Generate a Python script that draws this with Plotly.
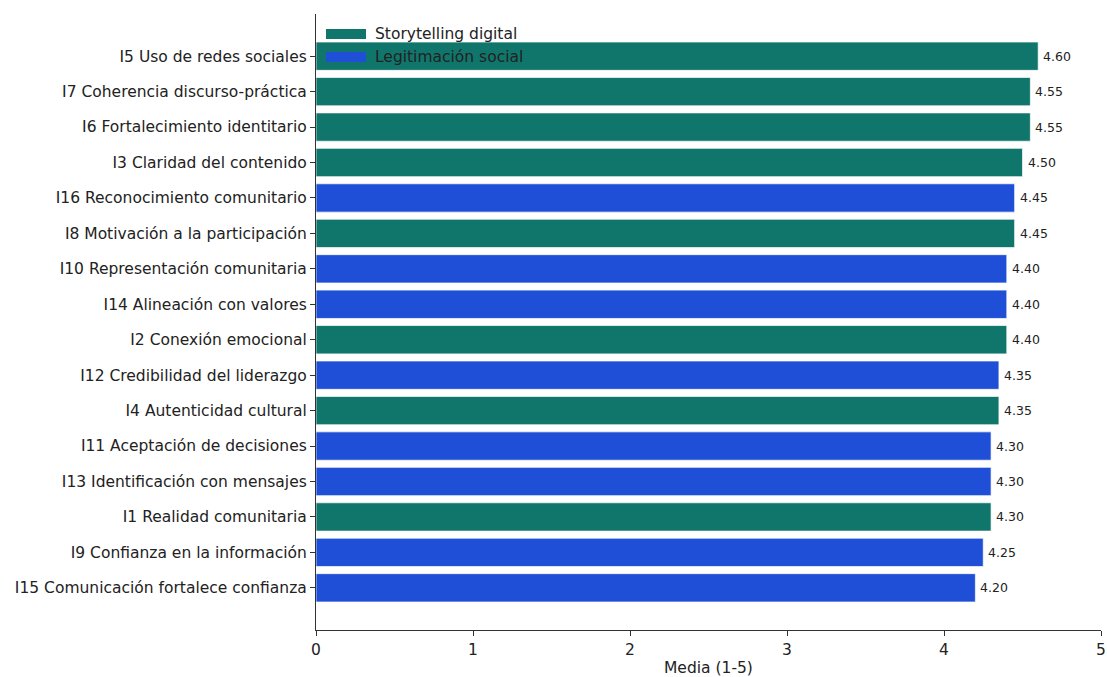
import plotly.graph_objects as go

items = [
    "I5 Uso de redes sociales", "I7 Coherencia discurso-práctica", "I6 Fortalecimiento identitario",
    "I3 Claridad del contenido", "I16 Reconocimiento comunitario", "I8 Motivación a la participación",
    "I10 Representación comunitaria", "I14 Alineación con valores", "I2 Conexión emocional",
    "I12 Credibilidad del liderazgo", "I4 Autenticidad cultural", "I11 Aceptación de decisiones",
    "I13 Identificación con mensajes", "I1 Realidad comunitaria", "I9 Confianza en la información",
    "I15 Comunicación fortalece confianza",
]
means = [4.60, 4.55, 4.55, 4.50, 4.45, 4.45, 4.40, 4.40, 4.40, 4.35, 4.35, 4.30, 4.30, 4.30, 4.25, 4.20]
groups = ["S", "S", "S", "S", "L", "S", "L", "L", "S", "L", "S", "L", "L", "S", "L", "L"]
group_names = {"S": "Storytelling digital", "L": "Legitimación social"}
group_colors = {"S": "#10766c", "L": "#1f4fd6"}

FS = 15.5
fig = go.Figure()
for g in ["S", "L"]:
    ys = [it for it, gg in zip(items, groups) if gg == g]
    xs = [m for m, gg in zip(means, groups) if gg == g]
    fig.add_trace(go.Bar(
        x=xs, y=ys, orientation="h", name=group_names[g], width=0.8,
        marker=dict(color=group_colors[g], line=dict(color="rgba(255,255,255,0.7)", width=1)),
        showlegend=False,
    ))

for it, m in zip(items, means):
    fig.add_annotation(x=m, y=it, text=f"{m:.2f}", xanchor="left", xshift=3, showarrow=False,
                       font=dict(family="DejaVu Sans", size=12.5, color="#222"))

PW, PH = 785, 616
leg_y = [34, 57]
for (g, yy) in zip(["S", "L"], leg_y):
    fig.add_shape(type="rect", xref="paper", yref="paper",
                  x0=10 / PW, x1=50 / PW, y0=(630 - yy - 5) / PH, y1=(630 - yy + 5) / PH,
                  fillcolor=group_colors[g], line=dict(width=0))
    fig.add_annotation(xref="paper", yref="paper", x=57 / PW, y=(630 - yy) / PH, text=group_names[g],
                       xanchor="left", yanchor="middle", showarrow=False,
                       font=dict(family="DejaVu Sans", size=FS, color="#222"))

fig.add_annotation(xref="paper", yref="paper", x=0.5, y=0, yshift=-38, text="Media (1-5)",
                   xanchor="center", yanchor="middle", showarrow=False,
                   font=dict(family="DejaVu Sans", size=FS, color="#222"))

fig.update_layout(
    width=1107, height=677,
    margin=dict(l=316, r=6, t=14, b=47, autoexpand=False),
    paper_bgcolor="white", plot_bgcolor="white",
    barmode="overlay",
    font=dict(family="DejaVu Sans", size=FS, color="#222"),
    xaxis=dict(range=[0, 5], tickvals=[0, 1, 2, 3, 4, 5], showgrid=False, zeroline=False,
               showline=True, linecolor="#333", linewidth=1.2, ticks="outside", ticklen=5,
               tickcolor="#333", tickfont=dict(size=FS), automargin=False),
    yaxis=dict(categoryorder="array", categoryarray=items, range=[15 + 1.19, -1.19],
               showgrid=False, zeroline=False, showline=True, linecolor="#333", linewidth=1.2,
               ticks="outside", ticklen=5, tickcolor="#333", tickfont=dict(size=FS), automargin=False),
)
fig.write_html("out.html", config={"displayModeBar": False},
               post_script="document.body.style.margin='0';document.body.style.overflow='hidden';")
